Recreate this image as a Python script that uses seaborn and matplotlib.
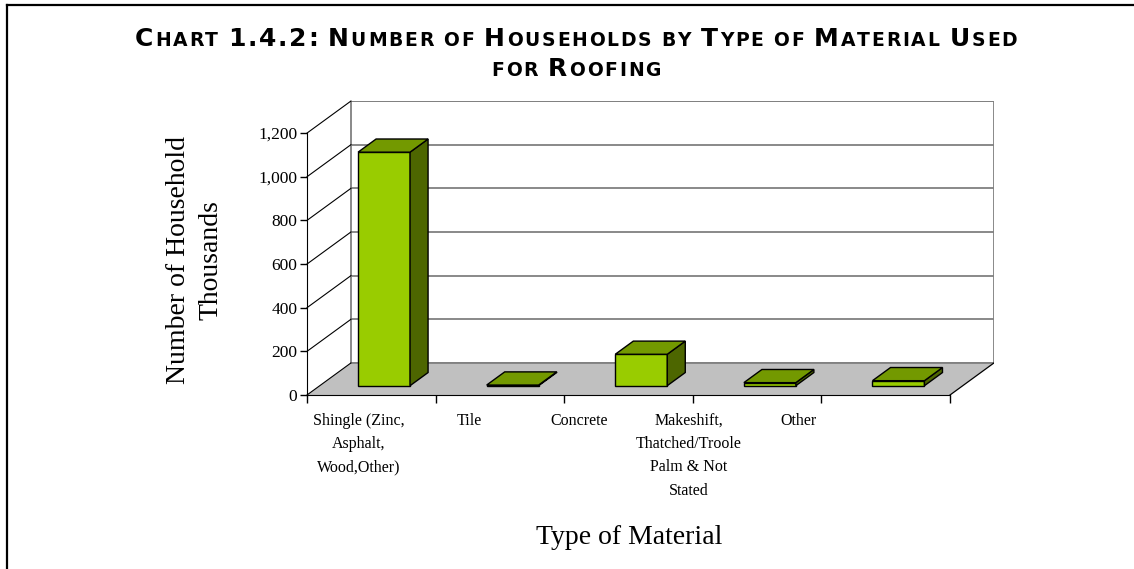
import numpy as np
import pandas as pd
import matplotlib
matplotlib.use("Agg")
import matplotlib.pyplot as plt
import seaborn as sns
from matplotlib.patches import Polygon, Rectangle
from matplotlib.lines import Line2D
from matplotlib.offsetbox import TextArea, HPacker, AnchoredOffsetbox

# Chart data (thousands of households)
categories = ["Shingle (Zinc,\nAsphalt,\nWood,Other)", "Tile", "Concrete",
              "Makeshift,\nThatched/Troole\nPalm & Not\nStated", "Other"]
households = [1070, 3, 144, 14, 23]
y_ticks = [0, 200, 400, 600, 800, 1000, 1200]
y_tick_labels = ["0", "200", "400", "600", "800", "1,000", "1,200"]

title_lines = ["Chart 1.4.2: Number of Households by Type of Material Used",
               "for Roofing"]

plt.rcParams['font.family'] = ['Liberation Serif', 'DejaVu Serif']

# 3d look: depth offset of the floor / back wall in data units
DX, DY = 0.342, 147
X0, X1, YMAX = -0.5, 4.5, 1200
BAR_W, F0, BD = 0.404, 0.29, 0.41

FRONT, TOP, SIDE = "#99CC00", "#739900", "#4D6600"

fig = plt.figure(figsize=(11.34, 5.69), dpi=100)
ax = fig.add_axes([307 / 1134, (569 - 395) / 569, 687 / 1134, 294 / 569])

df = pd.DataFrame({"Type": categories, "Households": households})
sns.barplot(data=df, x="Type", y="Households", color=FRONT, saturation=1,
            width=BAR_W, edgecolor="black", linewidth=1, errorbar=None,
            ax=ax, zorder=3)
bars = list(ax.patches)

# walls and floor
ax.add_patch(Rectangle((X0 + DX, DY), X1 - X0, YMAX, fc="white",
                       ec="#808080", lw=1.3, zorder=0))
for v in y_ticks[1:]:
    ax.plot([X0 + DX, X1 + DX], [v + DY] * 2, color="#808080", lw=1.3, zorder=0.5)
ax.add_patch(Polygon([(X0, 0), (X0 + DX, DY), (X1 + DX, DY), (X1, 0)],
                     closed=True, fc="#C0C0C0", ec="none", zorder=1))
ax.plot([X0 + DX, X1 + DX], [DY, DY], color="#808080", lw=1.3, zorder=1.2)
ax.plot([X1, X1 + DX], [0, DY], color="black", lw=0.9, zorder=1.2)
for v in y_ticks:
    ax.plot([X0, X0 + DX], [v, v + DY], color="black", lw=0.8, zorder=1.5,
            clip_on=False)

# push bars to mid-depth and add top / side faces
for p in bars:
    x0 = p.get_x() + F0 * DX
    y0 = F0 * DY
    w, v = p.get_width(), p.get_height()
    p.set_x(x0)
    p.set_y(y0)
    x1 = x0 + w
    ox, oy = BD * DX, BD * DY
    ax.add_patch(Polygon([(x1, y0), (x1 + ox, y0 + oy), (x1 + ox, y0 + v + oy), (x1, y0 + v)],
                         closed=True, fc=SIDE, ec="black", lw=1, zorder=3))
    ax.add_patch(Polygon([(x0, y0 + v), (x1, y0 + v), (x1 + ox, y0 + v + oy), (x0 + ox, y0 + v + oy)],
                         closed=True, fc=TOP, ec="black", lw=1, zorder=3))

ax.set_xlim(X0, X1 + DX)
ax.set_ylim(0, YMAX + DY)
ax.set_xlabel("")
ax.set_ylabel("")
ax.patch.set_visible(False)
for s in ["top", "right"]:
    ax.spines[s].set_visible(False)
ax.spines["left"].set_bounds(0, YMAX)
ax.spines["bottom"].set_bounds(X0, X1)
ax.spines["left"].set_zorder(2)

ax.set_yticks(y_ticks, y_tick_labels)
ax.tick_params(axis="y", length=5, width=1, direction="out", labelsize=12.5, pad=2)

label_pos = X0 + 0.405 + 0.855 * np.arange(len(categories))
ax.set_xticks(np.arange(len(categories) + 1) - 0.5, minor=True)
ax.set_xticks(label_pos, categories)
ax.tick_params(axis="x", which="minor", length=6, width=1, direction="out")
ax.tick_params(axis="x", which="major", length=0, pad=13, labelsize=11.5)
for t in ax.get_xticklabels():
    t.set_linespacing(1.6)

fig.text(195 / 1134, 1 - 260 / 569, "Number of Household\nThousands", rotation=90,
         ha="center", va="center", fontsize=20, linespacing=1.4, multialignment="center")
fig.text(629 / 1134, 1 - 537 / 569, "Type of Material", ha="center", va="center",
         fontsize=20)


def small_caps(text, big, small, track):
    words = []
    for word in text.split(" "):
        letters = []
        for ch in word:
            size = small if ch.islower() else big
            letters.append(TextArea(ch.upper(), textprops=dict(fontsize=size, family="DejaVu Sans",
                                                               fontweight="bold")))
        words.append(HPacker(children=letters, align="baseline", pad=0, sep=track))
    return HPacker(children=words, align="baseline", pad=0, sep=big * 0.4)


for line, yc in zip(title_lines, [39, 69]):
    box = AnchoredOffsetbox(loc="center", child=small_caps(line, 18, 13.5, 1.3), pad=0,
                            borderpad=0, frameon=False,
                            bbox_to_anchor=(576 / 1134, 1 - yc / 569),
                            bbox_transform=fig.transFigure)
    fig.add_artist(box)

# frame around the chart (top and left only)
fig.add_artist(Line2D([7 / 1134, 1], [1 - 4.5 / 569] * 2, color="black", lw=1.6))
fig.add_artist(Line2D([7 / 1134] * 2, [0, 1 - 4.5 / 569], color="black", lw=1.6))

fig.savefig("out.png", dpi=100)
